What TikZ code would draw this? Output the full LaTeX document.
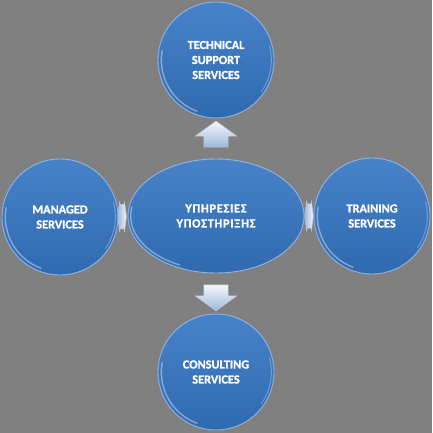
\documentclass[tikz,border=0pt]{standalone}
\usepackage{fontspec}
\setmainfont{Carlito}[BoldFeatures={FakeBold=1.2}]
\usetikzlibrary{shapes.geometric,shapes.arrows,calc}
\definecolor{bgGray}{HTML}{808080}
\definecolor{ballTop}{HTML}{4883CA}
\definecolor{ballBot}{HTML}{2F69AF}
\definecolor{ballRim}{HTML}{8DB3E2}
\definecolor{arrTop}{HTML}{F4F7FC}
\definecolor{arrBot}{HTML}{9FB7DA}

\begin{document}
\begin{tikzpicture}[
  x=0.03cm, y=-0.03cm,
  ball/.style={circle, minimum size=3.48cm, inner sep=0pt, top color=ballTop, bottom color=ballBot,
               draw=ballRim, line width=0.8pt, align=center, text=white, font=\bfseries\fontsize{10.5}{12.8}\selectfont,
               path picture={\draw[white, opacity=0.4, line width=1.2pt]
                 ($(path picture bounding box.center)+(170:1.64cm)$) arc[start angle=170, end angle=250, radius=1.64cm];
                 \draw[white, opacity=0.3, line width=0.8pt]
                 ($(path picture bounding box.center)+(15:1.66cm)$) arc[start angle=15, end angle=-35, radius=1.66cm];}},
  coreball/.style={ellipse, minimum width=5.28cm, minimum height=3.42cm, inner sep=0pt, top color=ballTop,
               bottom color=ballBot, draw=ballRim, line width=0.8pt, align=center, text=white,
               font=\bfseries\fontsize{10.5}{12.8}\selectfont\addfontfeatures{LetterSpace=6},
               path picture={\draw[white, opacity=0.4, line width=1.2pt]
                 ($(path picture bounding box.center)+({2.56cm*cos(170)},{1.62cm*sin(170)})$)
                 arc[start angle=170, end angle=245, x radius=2.56cm, y radius=1.62cm];}},
  vpointer/.style={single arrow, inner xsep=0pt, inner ysep=0.36cm, minimum height=0.78cm,
               single arrow head extend=0.26cm, single arrow tip angle=108, top color=arrTop,
               bottom color=arrBot, draw=arrBot!70!white, line width=0.4pt},
  hlink/.style={double arrow, inner xsep=0pt, inner ysep=0.36cm, minimum height=0.26cm,
               double arrow head extend=0.1cm, double arrow tip angle=165, left color=arrBot,
               right color=arrTop, draw=arrBot!70!white, line width=0.4pt}
]
% sfondo
\fill[bgGray] (0,0) rectangle (432,433);
\useasboundingbox (0,0) rectangle (432,433);

% nodi
\node[coreball] (core)     at (216,216) {ΥΠΗΡΕΣΙΕΣ\\ΥΠΟΣΤΗΡΙΞΗΣ};
\node[ball]     (tech)     at (216,60)  {TECHNICAL\\SUPPORT\\SERVICES};
\node[ball]     (managed)  at (60,217)  {MANAGED\\SERVICES};
\node[ball]     (training) at (372,216) {TRAINING\\SERVICES};
\node[ball]     (consult)  at (216,372) {CONSULTING\\SERVICES};

% frecce
\node[vpointer, rotate=90]  (uparr)     at ($(tech.south)!0.5!(core.north)$) {};
\node[vpointer, rotate=-90] (downarr)   at ($(core.south)!0.5!(consult.north)$) {};
\node[hlink]                (leftlink)  at ($(managed.east)!0.4!(core.west)$) {};
\node[hlink]                (rightlink) at ($(core.east)!0.5!(training.west)$) {};
\end{tikzpicture}
\end{document}
